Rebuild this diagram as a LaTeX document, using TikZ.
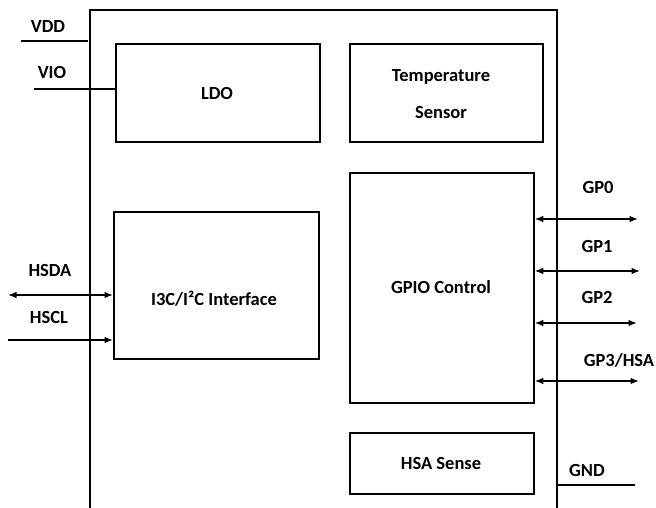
\documentclass[tikz,border=0pt]{standalone}
\usepackage{fontspec}
\setmainfont{Carlito}
\usetikzlibrary{arrows.meta}
\begin{document}
\begin{tikzpicture}[x=1pt,y=-1pt,
  font=\bfseries\fontsize{18.5}{22}\selectfont,
  blk/.style={draw, line width=1.8pt, anchor=north west, inner sep=0pt, align=center},
  sig/.style={line width=1.3pt},
  tip/.style={-{Latex[length=8.5pt,width=6.5pt]}},
  tips/.style={{Latex[length=8.5pt,width=6.5pt]}-{Latex[length=8.5pt,width=6.5pt]}},
  lbl/.style={inner sep=0pt, align=center}]
\useasboundingbox (0,0) rectangle (656,508);
% outer frame
\coordinate (fbl) at (90,508);
\coordinate (ftl) at (90,10);
\coordinate (ftr) at (557,10);
\coordinate (fbr) at (557,508);
\draw[line width=2.6pt] (fbl) -- (ftl) -- (ftr) -- (fbr);
% blocks
\node[blk, minimum width=204pt, minimum height=98pt] (ldo) at (115,43) {};
\node[lbl] (ldot) at (217,93) {LDO};
\node[blk, minimum width=193pt, minimum height=98pt] (temp) at (349,43) {};
\node[lbl] (tempt) at (441,94) {Temperature\\[15pt]Sensor};
\node[blk, minimum width=205pt, minimum height=147pt] (i3c) at (113,211) {};
\node[lbl] (i3ct) at (214,299) {I3C/I²C Interface};
\node[blk, minimum width=184pt, minimum height=230pt] (gpio) at (349,172) {};
\node[lbl] (gpiot) at (441,287) {GPIO Control};
\node[blk, minimum width=184pt, minimum height=61pt] (hsa) at (349,432) {};
\node[lbl] (hsat) at (441,463) {HSA Sense};
% supply lines
\coordinate (vddL) at (21,41);
\coordinate (vddR) at (88,41);
\draw[sig] (vddL) -- (vddR);
\node[lbl] (vdd) at (48,27) {VDD};
\coordinate (vioL) at (34,89);
\draw[sig] (vioL) -- (vioL -| ldo.west);
\node[lbl] (vio) at (52,72) {VIO};
\coordinate (gndL) at (558,485);
\coordinate (gndR) at (635,485);
\draw[sig] (gndL) -- (gndR);
\node[lbl] (gnd) at (587,470) {GND};
% host bus
\coordinate (hsdaL) at (8,295);
\draw[sig,tips] (hsdaL) -- (hsdaL -| i3c.west);
\node[lbl] (hsda) at (50,270) {HSDA};
\coordinate (hsclL) at (8,340);
\draw[sig,tip] (hsclL) -- (hsclL -| i3c.west);
\node[lbl] (hscl) at (49,317) {HSCL};
% GPIOs
\coordinate (gp0R) at (638,219);
\coordinate (gp1R) at (640,271);
\coordinate (gp2R) at (637,323);
\coordinate (gp3R) at (639,381);
\draw[sig,tips] (gp0R -| gpio.east) -- (gp0R);
\draw[sig,tips] (gp1R -| gpio.east) -- (gp1R);
\draw[sig,tips] (gp2R -| gpio.east) -- (gp2R);
\draw[sig,tips] (gp3R -| gpio.east) -- (gp3R);
\node[lbl] (gp0) at (598,187) {GP0};
\node[lbl] (gp1) at (597,246) {GP1};
\node[lbl] (gp2) at (597,297) {GP2};
\node[lbl] (gp3) at (619,360) {GP3/HSA};
\end{tikzpicture}
\end{document}
